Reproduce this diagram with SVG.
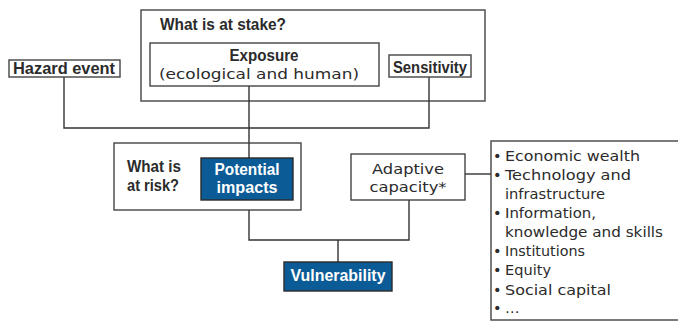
<svg xmlns="http://www.w3.org/2000/svg" width="678" height="322" viewBox="0 0 678 322">
<style>
.box{fill:#fff;stroke:#444;stroke-width:1.4}
.blue{fill:#0b5b96;stroke:#2a2a2a;stroke-width:1.4}
.con{fill:none;stroke:#333;stroke-width:1.4}
text{font-family:"Liberation Sans",Arial,sans-serif;fill:#2b2b2b;font-size:16px}
.b{font-weight:bold}
.r{font-family:"DejaVu Sans","Liberation Sans",sans-serif;font-size:14.5px}
.w{fill:#fff}
.m{text-anchor:middle}
</style>
<g id="stake">
<rect class="box" x="141" y="10" width="344" height="91"/>
<text class="b" x="160" y="30" textLength="126" lengthAdjust="spacingAndGlyphs">What is at stake?</text>
</g>
<g id="connectors">
<polyline class="con" points="64,77 64,128 429,128 429,77"/>
<line class="con" x1="249" y1="86" x2="249" y2="158"/>
<polyline class="con" points="249,200 249,240 409,240 409,200"/>
<line class="con" x1="338" y1="240" x2="338" y2="262"/>
<line class="con" x1="465" y1="174" x2="491" y2="174"/>
</g>
<g id="exposure">
<rect class="box" x="150" y="43" width="229" height="43"/>
<text class="b m" x="264" y="61" textLength="69" lengthAdjust="spacingAndGlyphs">Exposure</text>
<text class="r m" x="259" y="79" textLength="200" lengthAdjust="spacingAndGlyphs">(ecological and human)</text>
</g>
<g id="hazard">
<rect class="box" x="9" y="60" width="111" height="17"/>
<text class="b" x="13" y="74" textLength="102" lengthAdjust="spacingAndGlyphs">Hazard event</text>
</g>
<g id="sensitivity">
<rect class="box" x="389" y="55" width="82" height="22"/>
<text class="b" x="393" y="73" textLength="74" lengthAdjust="spacingAndGlyphs">Sensitivity</text>
</g>
<g id="risk">
<rect class="box" x="114" y="143" width="187" height="67"/>
<text class="b" x="127" y="172" textLength="54" lengthAdjust="spacingAndGlyphs">What is</text>
<text class="b" x="127" y="191" textLength="52" lengthAdjust="spacingAndGlyphs">at risk?</text>
</g>
<line class="con" x1="249" y1="143" x2="249" y2="158"/>
<g id="impacts">
<rect class="blue" x="201" y="158" width="92" height="42"/>
<text class="b w m" x="247" y="175" textLength="65" lengthAdjust="spacingAndGlyphs">Potential</text>
<text class="b w m" x="247" y="193" textLength="61" lengthAdjust="spacingAndGlyphs">impacts</text>
</g>
<g id="adaptive">
<rect class="box" x="351" y="154" width="114" height="46"/>
<text class="r m" x="408" y="174" textLength="72" lengthAdjust="spacingAndGlyphs">Adaptive</text>
<text class="r m" x="408" y="192" textLength="77" lengthAdjust="spacingAndGlyphs">capacity*</text>
</g>
<g id="vulnerability">
<rect class="blue" x="284" y="262" width="108" height="29"/>
<text class="b w m" x="338" y="281" textLength="95" lengthAdjust="spacingAndGlyphs">Vulnerability</text>
</g>
<g id="list">
<rect class="box" x="491" y="141" width="200" height="179"/>
<g class="r">
<text class="r" x="493" y="161">•</text>
<text class="r" x="505" y="161" textLength="135" lengthAdjust="spacingAndGlyphs">Economic wealth</text>
<text class="r" x="493" y="180">•</text>
<text class="r" x="505" y="180" textLength="126" lengthAdjust="spacingAndGlyphs">Technology and</text>
<text class="r" x="505" y="199" textLength="100" lengthAdjust="spacingAndGlyphs">infrastructure</text>
<text class="r" x="493" y="218">•</text>
<text class="r" x="505" y="218" textLength="91" lengthAdjust="spacingAndGlyphs">Information,</text>
<text class="r" x="505" y="237" textLength="158" lengthAdjust="spacingAndGlyphs">knowledge and skills</text>
<text class="r" x="493" y="256">•</text>
<text class="r" x="505" y="256" textLength="80" lengthAdjust="spacingAndGlyphs">Institutions</text>
<text class="r" x="493" y="275">•</text>
<text class="r" x="505" y="275" textLength="46" lengthAdjust="spacingAndGlyphs">Equity</text>
<text class="r" x="493" y="295">•</text>
<text class="r" x="505" y="295" textLength="106" lengthAdjust="spacingAndGlyphs">Social capital</text>
<text class="r" x="493" y="313">•</text>
<text class="r" x="505" y="313">…</text>
</g>
</g>
</svg>
